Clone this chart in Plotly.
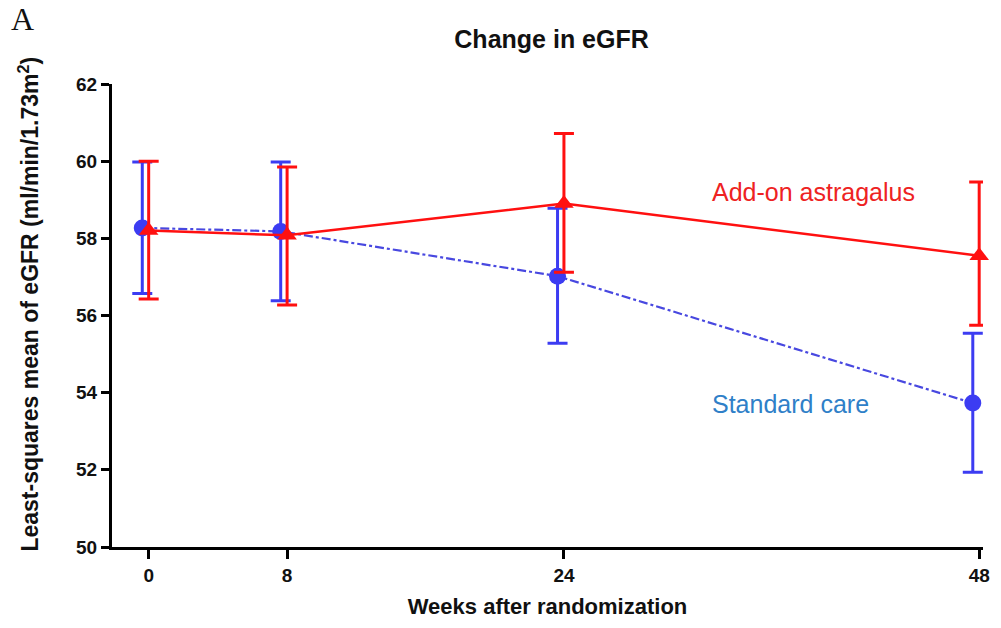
import plotly.graph_objects as go

weeks = [0, 8, 24, 48]
tick_labels = ["0", "8", "24", "48"]

astragalus_mean = [58.20, 58.08, 58.90, 57.55]
astragalus_upper = [60.00, 59.85, 60.72, 59.46]
astragalus_lower = [56.43, 56.27, 57.12, 55.75]

standard_mean = [58.27, 58.18, 57.02, 53.73]
standard_upper = [59.98, 59.98, 58.78, 55.54]
standard_lower = [56.57, 56.38, 55.28, 51.94]

RED = "#ff1010"
BLUE = "#3c3cf2"
BLUE_LINE = "#4848e0"
LABEL_BLUE = "#2f80c8"

blue_offset = -0.37
std_x = [w + blue_offset for w in weeks]

fig = go.Figure()

fig.add_trace(go.Scatter(
    x=std_x, y=standard_mean, mode="lines+markers", cliponaxis=False,
    line=dict(color=BLUE_LINE, width=2.2, dash="dashdot"),
    marker=dict(symbol="circle", size=17, color=BLUE),
    error_y=dict(type="data", symmetric=False,
                 array=[u - m for u, m in zip(standard_upper, standard_mean)],
                 arrayminus=[m - l for m, l in zip(standard_mean, standard_lower)],
                 color=BLUE, thickness=3, width=10),
    showlegend=False,
))

fig.add_trace(go.Scatter(
    x=weeks, y=astragalus_mean, mode="lines+markers", cliponaxis=False,
    line=dict(color=RED, width=2.5),
    marker=dict(symbol="triangle-up", size=17, color=RED),
    error_y=dict(type="data", symmetric=False,
                 array=[u - m for u, m in zip(astragalus_upper, astragalus_mean)],
                 arrayminus=[m - l for m, l in zip(astragalus_mean, astragalus_lower)],
                 color=RED, thickness=3, width=10),
    showlegend=False,
))

fig.add_annotation(x=32.45, y=59.2, xref="x", yref="y", text="Add-on astragalus",
                   showarrow=False, xanchor="left",
                   font=dict(family="Liberation Sans, Arial, sans-serif", size=25, color="#ee2222"))
fig.add_annotation(x=32.45, y=53.7, xref="x", yref="y", text="Standard care",
                   showarrow=False, xanchor="left",
                   font=dict(family="Liberation Sans, Arial, sans-serif", size=25, color=LABEL_BLUE))

fig.add_annotation(x=-0.118, y=1.14, xref="paper", yref="paper", text="A", showarrow=False,
                   xanchor="left", yanchor="middle",
                   font=dict(family="Liberation Serif, Times New Roman, serif", size=32, color="#111"))

fig.add_annotation(x=-0.0957, y=0.525, xref="paper", yref="paper",
                   text="<b>Least-squares mean of eGFR (ml/min/1.73m<sup>2</sup>)</b>",
                   textangle=-90, showarrow=False, xanchor="center", yanchor="middle",
                   font=dict(family="Liberation Sans, Arial, sans-serif", size=23, color="#111"))

fig.update_layout(
    width=1001, height=628,
    margin=dict(l=112, r=11, t=84, b=81),
    paper_bgcolor="white", plot_bgcolor="white",
    title=dict(text="<b>Change in eGFR</b>", x=0.551, xanchor="center", y=0.937, yanchor="middle",
               font=dict(family="Liberation Sans, Arial, sans-serif", size=25, color="#111")),
    font=dict(family="Liberation Sans, Arial, sans-serif", color="#111"),
)

fig.update_xaxes(
    range=[-2.12, 48.22], tickvals=weeks, ticktext=["<b>%s</b>" % t for t in tick_labels],
    showgrid=False, zeroline=False, showline=True, linecolor="black", linewidth=3,
    ticks="outside", ticklen=9, tickwidth=3, tickcolor="black",
    tickfont=dict(size=19, family="Liberation Sans Narrow, Liberation Sans, Arial, sans-serif"),
    title=dict(text="<b>Weeks after randomization</b>", standoff=14,
               font=dict(size=22, family="Liberation Sans, Arial, sans-serif")),
)
fig.update_yaxes(
    range=[50, 62], tickvals=[50, 52, 54, 56, 58, 60, 62],
    ticktext=["<b>%d</b>" % v for v in [50, 52, 54, 56, 58, 60, 62]],
    showgrid=False, zeroline=False, showline=True, linecolor="black", linewidth=3,
    ticks="outside", ticklen=8, tickwidth=3, tickcolor="black",
    tickfont=dict(size=19, family="Liberation Sans, Arial, sans-serif"),
)

fig.write_html("out.html")
